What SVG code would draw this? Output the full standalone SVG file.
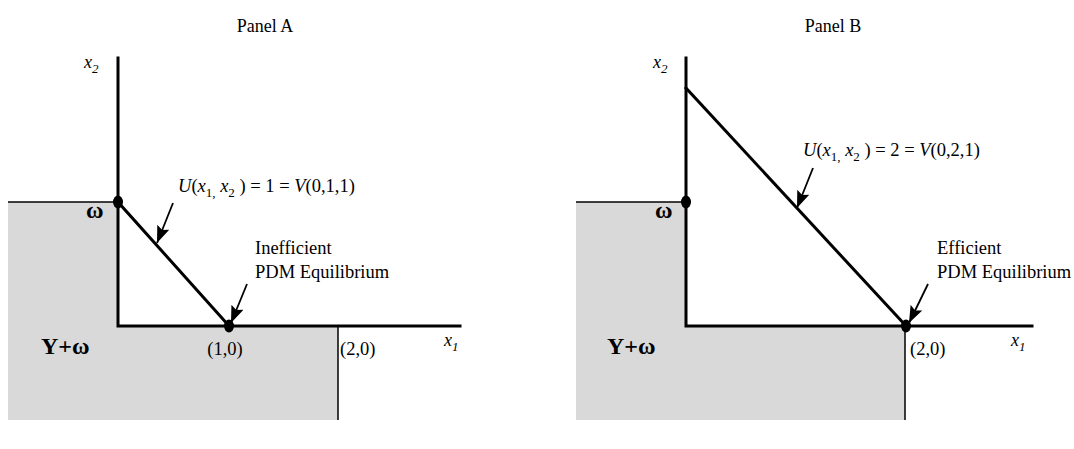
<svg xmlns="http://www.w3.org/2000/svg" width="1074" height="449" viewBox="0 0 1074 449">
<style>
text{font-family:"Liberation Serif","Times New Roman",serif;fill:#000}
.t{font-size:18px}
.lb{font-size:18.5px}
.it{font-style:italic}
.bold{font-weight:bold;font-size:24px}
.ax{stroke:#000;stroke-width:3;fill:none;stroke-linecap:square}
.thin{stroke:#000;stroke-width:1.5;fill:none}
.gray{fill:#d9d9d9;stroke:none}
.arr{stroke:#000;stroke-width:1.8;fill:none;marker-end:url(#ah)}
</style>
<defs>
<marker id="ah" viewBox="0 0 17 13" refX="17" refY="6.5" markerWidth="17" markerHeight="13" markerUnits="userSpaceOnUse" orient="auto">
<path d="M0,0 L17,6.5 L0,13 L3,6.5 z" fill="#000"/>
</marker>
</defs>
<rect width="1074" height="449" fill="#fff"/>
<g id="panelA">
<text class="t" x="265" y="32" text-anchor="middle">Panel A</text>
<g id="regionA">
<path class="gray" d="M8,202 H118 V326 H338 V420 H8 Z"/>
<line class="thin" x1="8" y1="202" x2="118" y2="202"/>
<line class="thin" x1="338" y1="326" x2="338" y2="420"/>
</g>
<g id="axesA">
<path class="ax" d="M118,58 V326 H460"/>
<text class="it" font-size="18" x="84" y="68">x<tspan font-size="13" dy="5">2</tspan></text>
<text class="it" font-size="18" x="444" y="346">x<tspan font-size="13" dy="5">1</tspan></text>
</g>
<g id="lineA">
<line class="ax" x1="118" y1="202" x2="229" y2="326"/>
</g>
<g id="omegaA">
<ellipse cx="118" cy="202" rx="5" ry="6.5"/>
<text class="bold" x="86" y="218">ω</text>
</g>
<g id="eqA">
<ellipse cx="229" cy="326" rx="5" ry="6.5"/>
<text class="lb" x="225" y="355" text-anchor="middle">(1,0)</text>
</g>
<text class="lb" x="340" y="355">(2,0)</text>
<text class="bold" x="41" y="354">Y+ω</text>
<text class="lb" x="178" y="192"><tspan class="it">U</tspan>(<tspan class="it">x</tspan><tspan font-size="13" dy="5">1,</tspan><tspan dy="-5"> </tspan><tspan class="it">x</tspan><tspan font-size="13" dy="5">2</tspan><tspan dy="-5"> )  =  1  =  </tspan><tspan class="it">V</tspan>(0,1,1)</text>
<text class="lb" x="255" y="254">Inefficient</text>
<text class="lb" x="255" y="278">PDM Equilibrium</text>
</g>
<g id="panelB">
<text class="t" x="833" y="32" text-anchor="middle">Panel B</text>
<g id="regionB">
<path class="gray" d="M576,202 H686 V326 H905 V420 H576 Z"/>
<line class="thin" x1="576" y1="202" x2="686" y2="202"/>
<line class="thin" x1="905" y1="326" x2="905" y2="420"/>
</g>
<g id="axesB">
<path class="ax" d="M686,58 V326 H1032"/>
<text class="it" font-size="18" x="653" y="68">x<tspan font-size="13" dy="5">2</tspan></text>
<text class="it" font-size="18" x="1011" y="346">x<tspan font-size="13" dy="5">1</tspan></text>
</g>
<g id="lineB">
<line class="ax" x1="686" y1="88" x2="906" y2="326"/>
</g>
<g id="omegaB">
<ellipse cx="686" cy="202" rx="5" ry="6.5"/>
<text class="bold" x="655" y="218">ω</text>
</g>
<g id="eqB">
<ellipse cx="906" cy="326" rx="5" ry="6.5"/>
<text class="lb" x="910" y="355">(2,0)</text>
</g>
<text class="bold" x="607" y="354">Y+ω</text>
<text class="lb" x="803" y="156"><tspan class="it">U</tspan>(<tspan class="it">x</tspan><tspan font-size="13" dy="5">1,</tspan><tspan dy="-5"> </tspan><tspan class="it">x</tspan><tspan font-size="13" dy="5">2</tspan><tspan dy="-5"> )  =  2  =  </tspan><tspan class="it">V</tspan>(0,2,1)</text>
<text class="lb" x="937" y="254">Efficient</text>
<text class="lb" x="937" y="278">PDM Equilibrium</text>
</g>
<g id="connectors">
<line class="arr" x1="173" y1="203" x2="157" y2="243"/>
<line class="arr" x1="247" y1="284" x2="231" y2="323"/>
<line class="arr" x1="813" y1="168" x2="797" y2="208"/>
<line class="arr" x1="928" y1="284" x2="909" y2="323"/>
</g>
</svg>
